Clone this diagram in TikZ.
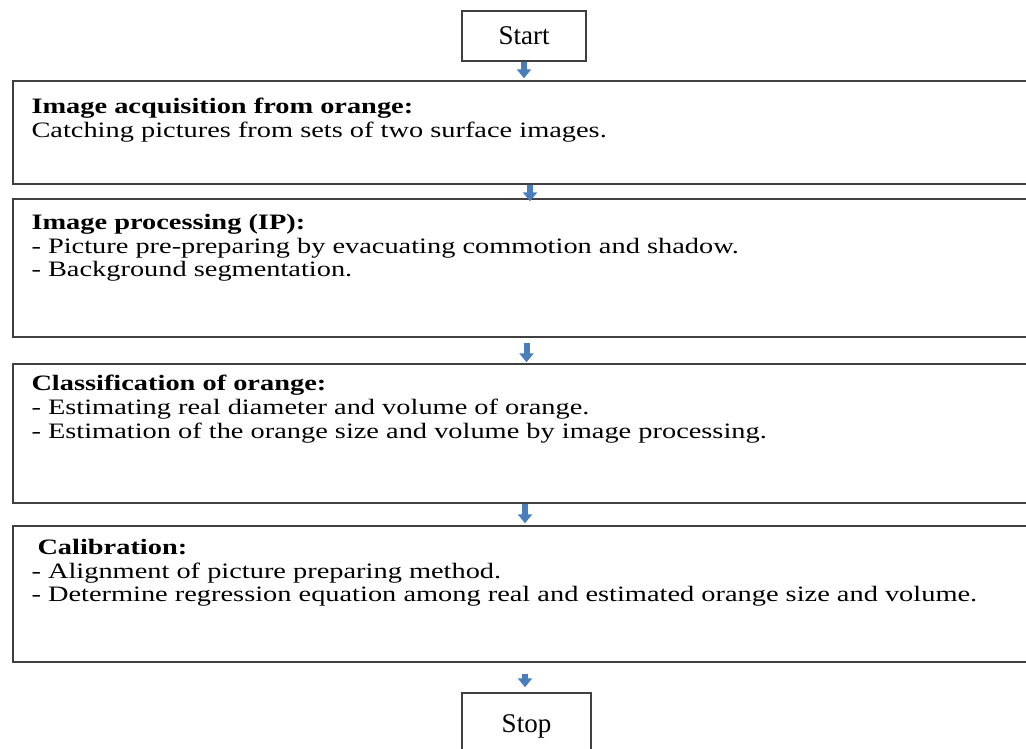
\documentclass[tikz,border=0pt]{standalone}
\usepackage{fontspec}
\setmainfont{Liberation Serif}
\newfontfamily\bodyfont{Liberation Serif}[FakeStretch=1.29]
\usetikzlibrary{
  arrows.meta,  % 块状箭头
  positioning   % 节点相对定位
}
\definecolor{arrowblue}{RGB}{74,126,187}
\definecolor{framegray}{RGB}{64,64,64}

\tikzset{
  stepbox/.style={draw=framegray, line width=1.4pt, rectangle,
    minimum width=1027pt, inner sep=0pt},
  endbox/.style={draw=framegray, line width=1.4pt, rectangle,
    inner sep=0pt, font=\fontsize{27}{30}\selectfont},
  boxtext/.style={anchor=north west, align=left, inner sep=0pt,
    font=\bodyfont\fontsize{22}{23.6}\selectfont},
  flowarrow/.style={draw=arrowblue, line width=6pt,
    -{Triangle[width=14pt,length=9pt]}}
}

\begin{document}
\begin{tikzpicture}[x=1pt, y=-1pt]
  % 页面范围 (右侧与底部的框被裁掉)
  \clip (0,0) rectangle (1026,749);

  % =========== 起止框 ===========
  \node[endbox, minimum width=124pt, minimum height=50pt] (start) at (524,36) {Start};
  \node[endbox, minimum width=129pt, minimum height=67pt] (stop) at (526.5,726.5) {Stop};

  % =========== 四个步骤框 ===========
  \node[stepbox, minimum height=103pt] (acq)  at (526.5,132.5) {};
  \node[stepbox, minimum height=138pt] (proc) at (526.5,268)   {};
  \node[stepbox, minimum height=139pt] (cls)  at (526.5,433.5) {};
  \node[stepbox, minimum height=136pt] (cal)  at (526.5,594)   {};

  % 框内文字 (左上角对齐)
  \node[boxtext] (acqtxt) at ([shift={(19,18)}]acq.north west)
    {\textbf{Image acquisition from orange:}\\
     Catching pictures from sets of two surface images.};
  \node[boxtext] (proctxt) at ([shift={(19,16)}]proc.north west)
    {\textbf{Image processing (IP):}\\
     - Picture pre-preparing by evacuating commotion and shadow.\\
     - Background segmentation.};
  \node[boxtext] (clstxt) at ([shift={(19,12)}]cls.north west)
    {\textbf{Classification of orange:}\\
     - Estimating real diameter and volume of orange.\\
     - Estimation of the orange size and volume by image processing.};
  \node[boxtext] (caltxt) at ([shift={(19,14)}]cal.north west)
    {\hspace*{6pt}\textbf{Calibration:}\\
     - Alignment of picture preparing method.\\
     - Determine regression equation among real and estimated orange size and volume.};

  % =========== 箭头 ===========
  \draw[flowarrow, shorten >=2pt] (start.south) -- (acq.north -| start.south);
  \draw[flowarrow, shorten >=-3pt] ([xshift=3.5pt]acq.south) -- ([xshift=3.5pt]proc.north);
  \draw[flowarrow, shorten <=5pt, shorten >=1pt] (proc.south) -- (cls.north);
  \draw[flowarrow, shorten >=2pt] ([xshift=-1.5pt]cls.south) -- ([xshift=-1.5pt]cal.north);
  \draw[flowarrow, shorten <=11pt, shorten >=5pt] ([xshift=-1.5pt]cal.south) -- ([xshift=-1.5pt]stop.north);

\end{tikzpicture}
\end{document}
